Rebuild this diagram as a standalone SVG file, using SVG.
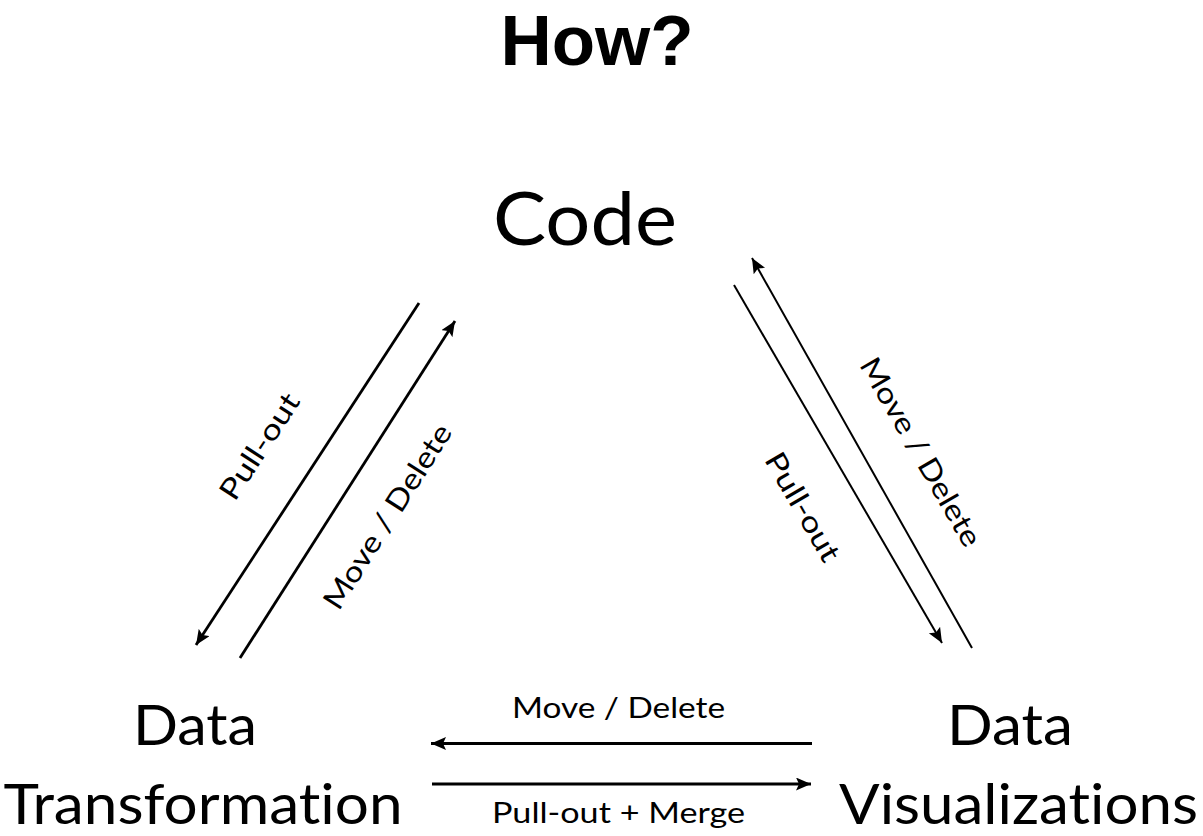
<svg xmlns="http://www.w3.org/2000/svg" width="1203" height="836" viewBox="0 0 1203 836">
  <style>
    .title { font-family: "Liberation Sans", Arial, sans-serif; font-weight: bold; font-size: 71px; fill: #000; }
    .node { font-family: Lato, "Open Sans", sans-serif; fill: #000; font-variant-ligatures: none; }
    .big { font-size: 74px; }
    .mid { font-size: 57px; }
    .lbl { font-family: Lato, "Open Sans", sans-serif; font-size: 29px; fill: #000; font-variant-ligatures: none; }
    .edge { stroke: #000; stroke-width: 2.8; fill: none; }
    .thin { stroke-width: 2; }
  </style>
  <defs>
    <marker id="arrow" markerUnits="userSpaceOnUse" markerWidth="18" markerHeight="14" refX="15" refY="6.5" orient="auto">
      <path d="M0,0 L15,6.5 L0,13 L3,6.5 z" fill="#000"/>
    </marker>
  </defs>

  <rect width="1203" height="836" fill="#fff"/>

  <text class="title" x="597" y="65" text-anchor="middle">How?</text>

  <g id="node-code">
    <text class="node big" x="585" y="245" text-anchor="middle" textLength="184" lengthAdjust="spacingAndGlyphs">Code</text>
  </g>
  <g id="node-transformation">
    <text class="node mid" x="195" y="745" text-anchor="middle" textLength="124" lengthAdjust="spacingAndGlyphs">Data</text>
    <text class="node mid" x="203" y="824" text-anchor="middle" textLength="399" lengthAdjust="spacingAndGlyphs">Transformation</text>
  </g>
  <g id="node-visualizations">
    <text class="node mid" x="1010" y="745" text-anchor="middle" textLength="126" lengthAdjust="spacingAndGlyphs">Data</text>
    <text class="node mid" x="1018.5" y="824" text-anchor="middle" textLength="359" lengthAdjust="spacingAndGlyphs">Visualizations</text>
  </g>

  <g id="connectors">
    <!-- Code <-> Data Transformation -->
    <line class="edge" x1="419" y1="303" x2="196" y2="645" marker-end="url(#arrow)"/>
    <line class="edge" x1="240" y1="658" x2="455" y2="321" marker-end="url(#arrow)"/>
    <text class="lbl" transform="translate(268,452) rotate(-56.8)" text-anchor="middle" textLength="121" lengthAdjust="spacingAndGlyphs">Pull-out</text>
    <text class="lbl" transform="translate(396,522) rotate(-57.5)" text-anchor="middle" textLength="213" lengthAdjust="spacingAndGlyphs">Move / Delete</text>

    <!-- Code <-> Data Visualizations -->
    <line class="edge thin" x1="972" y1="648" x2="752" y2="258" marker-end="url(#arrow)"/>
    <line class="edge thin" x1="734" y1="285" x2="942" y2="643" marker-end="url(#arrow)"/>
    <text class="lbl" transform="translate(912,457) rotate(60)" text-anchor="middle" textLength="213" lengthAdjust="spacingAndGlyphs">Move / Delete</text>
    <text class="lbl" transform="translate(794,512) rotate(60)" text-anchor="middle" textLength="121" lengthAdjust="spacingAndGlyphs">Pull-out</text>

    <!-- Data Transformation <-> Data Visualizations -->
    <line class="edge" x1="812" y1="743.5" x2="431" y2="743.5" marker-end="url(#arrow)"/>
    <line class="edge" x1="432" y1="784" x2="811" y2="784" marker-end="url(#arrow)"/>
    <text class="lbl" x="618.5" y="718" text-anchor="middle" textLength="213" lengthAdjust="spacingAndGlyphs">Move / Delete</text>
    <text class="lbl" x="618.5" y="823" text-anchor="middle" textLength="253" lengthAdjust="spacingAndGlyphs">Pull-out + Merge</text>
  </g>
</svg>
